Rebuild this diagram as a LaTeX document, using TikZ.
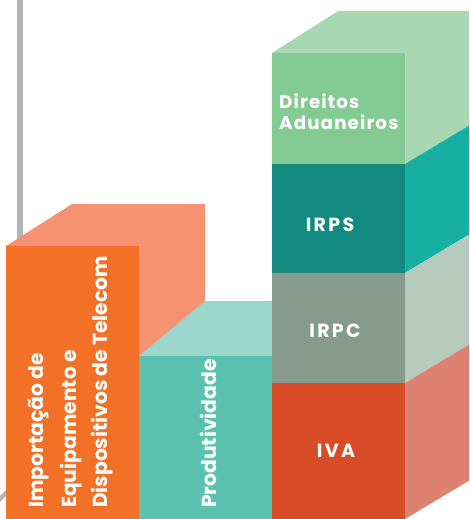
\documentclass[tikz,border=0pt]{standalone}
\usepackage{fontspec}
\setmainfont{Poppins}
\definecolor{orangeF}{HTML}{F37027}
\definecolor{orangeS}{HTML}{F59271}
\definecolor{tealF}{HTML}{5BC2AF}
\definecolor{tealT}{HTML}{9BD6CC}
\definecolor{dirF}{HTML}{84CA93}
\definecolor{dirS}{HTML}{A8D7B2}
\definecolor{irpsF}{HTML}{128A7F}
\definecolor{irpsS}{HTML}{16AFA1}
\definecolor{irpcF}{HTML}{869A8D}
\definecolor{irpcS}{HTML}{B4CBBE}
\definecolor{ivaF}{HTML}{D84C28}
\definecolor{ivaS}{HTML}{DF8170}
\definecolor{barG}{HTML}{B3B4B8}
\tikzset{
  vlbl/.style={text=white, font=\fontsize{20.3}{20.3}\selectfont\bfseries, inner sep=0pt, rotate=90, anchor=base west},
  hlbl/.style={text=white, font=\bfseries\addfontfeature{LetterSpace=12}\fontsize{19}{19}\selectfont, inner sep=0pt},
}
\begin{document}
\begin{tikzpicture}[x=1pt,y=-1pt]
\useasboundingbox (0,0) rectangle (469,519);
\clip (0,0) rectangle (469,519);
% gray bar and diagonal
\fill[barG] (17,0) rectangle (23,246);
\draw[barG, line width=4.5pt] (-2,501) -- (10,489);
% orange block: top and side
\fill[orangeS] (6,246) -- (72,204) -- (205,204) -- (205,519) -- (139,519) -- (139,246) -- cycle;
\fill[orangeF] (6,246) rectangle (139,519);
% teal block
\fill[tealT] (139,356) -- (205,301) -- (338,301) -- (272,356) -- cycle;
\fill[tealF] (139,356) rectangle (272,519);
% right block: top and sides
\fill[dirS] (272,53) -- (338,11) -- (475,11) -- (475,122) -- (405,164) -- (405,53) -- cycle;
\fill[irpsS] (405,164) -- (475,122) -- (475,231) -- (405,273) -- cycle;
\fill[irpcS] (405,273) -- (475,231) -- (475,341) -- (405,383) -- cycle;
\fill[ivaS] (405,383) -- (475,341) -- (475,477) -- (405,519) -- cycle;
% right block fronts
\fill[dirF] (272,53) rectangle (405,164);
\fill[irpsF] (272,164) rectangle (405,273);
\fill[irpcF] (272,273) rectangle (405,383);
\fill[ivaF] (272,383) rectangle (405,519);
% labels
\node[text=white, font=\bfseries\addfontfeature{LetterSpace=6}\fontsize{18.3}{21}\selectfont, inner sep=0pt, anchor=base west, align=left] (dir) at (279,129) {Direitos\\Aduaneiros};
\node[hlbl] (irps) at (330,224.5) {IRPS};
\node[hlbl] (irpc) at (335,330.5) {IRPC};
\node[hlbl] (iva) at (336,450.5) {IVA};
\node[vlbl] (imp1) at (43,508) {Importação de};
\node[vlbl] (imp2) at (76,508) {Equipamento e};
\node[vlbl] (imp3) at (107,508) {Dispositivos de Telecom};
\node[vlbl] (prod) at (216,508) {Produtividade};
\end{tikzpicture}
\end{document}
